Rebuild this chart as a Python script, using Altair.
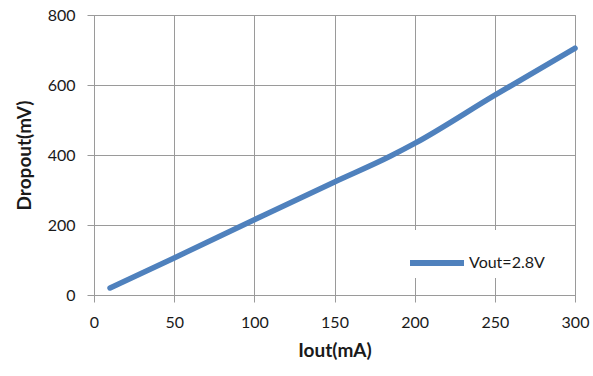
import altair as alt
import pandas as pd

# Dropout voltage versus output current
iout_ma = [10, 50, 100, 150, 185, 200, 250, 300]
dropout_mv = [20, 106, 215, 323, 397, 433, 571, 705]
series_name = "Vout=2.8V"

df = pd.DataFrame({
    "Iout": iout_ma,
    "Dropout": dropout_mv,
    "series": [series_name] * len(iout_ma),
})

grid_color = "#9a9a9a"
font = "Lato"

chart = alt.Chart(df).mark_line(
    strokeWidth=5.5, strokeCap="round", strokeJoin="round", interpolate="monotone"
).encode(
    x=alt.X("Iout:Q", title="Iout(mA)",
            scale=alt.Scale(domain=[0, 300], nice=False),
            axis=alt.Axis(values=[0, 50, 100, 150, 200, 250, 300])),
    y=alt.Y("Dropout:Q", title="Dropout(mV)",
            scale=alt.Scale(domain=[0, 800], nice=False),
            axis=alt.Axis(values=[0, 200, 400, 600, 800])),
    color=alt.Color("series:N", title=None,
                    scale=alt.Scale(range=["#4f81bd"]),
                    legend=alt.Legend(
                        orient="none", legendX=310, legendY=215,
                        symbolType="stroke", symbolSize=2916,
                        symbolStrokeWidth=6, labelFontSize=16, labelFont=font,
                        labelColor="#1a1a1a", labelOffset=2,
                        fillColor="white", padding=3,
                    )),
).properties(
    width=481, height=280,
    autosize=alt.AutoSizeParams(type="none"),
    padding={"left": 94, "top": 15, "right": 18, "bottom": 81},
).configure_view(
    stroke=grid_color, strokeWidth=1,
).configure_axis(
    grid=True, gridColor=grid_color, gridWidth=1, gridOpacity=1,
    domainColor=grid_color, tickColor=grid_color, tickSize=7,
    labelFlush=False, labelOverlap=False,
    labelFont=font, labelFontSize=16, labelColor="#1a1a1a",
    titleFont=font, titleFontSize=19, titleFontWeight="bold", titleColor="#1a1a1a",
).configure_axisX(
    labelPadding=12, titlePadding=11,
).configure_axisY(
    labelPadding=12, titlePadding=13,
)

chart.save("out.html", embed_options={"renderer": "svg", "actions": False})
